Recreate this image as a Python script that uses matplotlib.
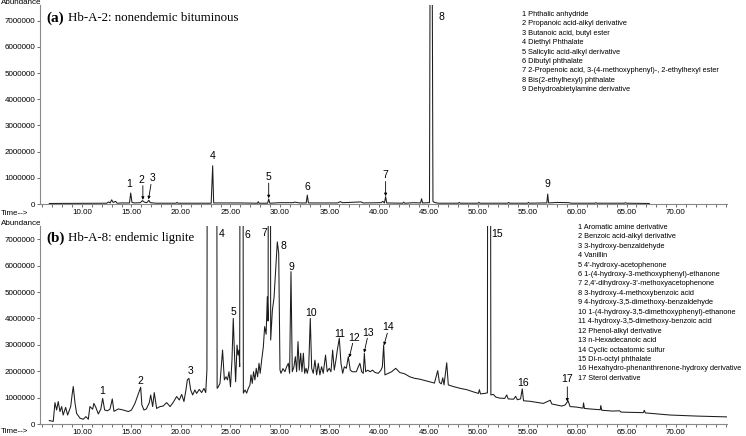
import matplotlib
matplotlib.use("Agg")
import matplotlib.pyplot as plt
from matplotlib.ticker import MultipleLocator, FormatStrFormatter, FuncFormatter
import numpy as np

# ---- panel (a): Hb-A-2, retention time (min) / abundance (millions)
time_a = [6.7, 12.5, 12.7, 12.85, 13.0, 13.15, 13.4, 13.55, 14.0, 14.8, 14.92, 15.05,
          15.3, 15.9, 16.1, 16.3, 16.55, 16.75, 16.9, 17.5, 19.5, 19.6, 19.7, 23.05,
          23.2, 23.3, 26.0, 27.75, 27.8, 27.9, 28.75, 28.86, 28.97, 30.0, 31.3, 31.5,
          32.0, 32.65, 32.76, 32.87, 35.8, 36.1, 36.3, 37.0, 38.2, 38.4, 40.2, 40.4,
          40.55, 40.67, 40.78, 42.4, 42.5, 42.6, 43.5, 44.2, 44.3, 44.4, 45.1, 45.18,
          45.35, 45.45, 45.6, 46.0, 48.0, 48.1, 48.2, 50.0, 50.1, 50.2, 53.0, 53.1,
          53.2, 55.0, 55.1, 55.2, 56.5, 56.95, 57.04, 57.13, 58.0, 59.2, 59.4, 61.8,
          61.9, 62.0, 64.8, 64.9, 65.0, 67.3]
abund_a = [0.02, 0.03, 0.08, 0.04, 0.16, 0.06, 0.10, 0.03, 0.04, 0.04, 0.42, 0.06,
           0.04, 0.05, 0.13, 0.07, 0.05, 0.14, 0.05, 0.03, 0.03, 0.06, 0.03, 0.03,
           1.46, 0.04, 0.04, 0.03, 0.09, 0.03, 0.03, 0.19, 0.03, 0.05, 0.05, 0.07,
           0.04, 0.04, 0.34, 0.04, 0.04, 0.09, 0.05, 0.06, 0.08, 0.04, 0.05, 0.10,
           0.04, 0.28, 0.04, 0.03, 0.07, 0.03, 0.05, 0.04, 0.20, 0.04, 0.05, 12.0,
           12.0, 0.10, 0.06, 0.03, 0.03, 0.06, 0.03, 0.03, 0.06, 0.03, 0.03, 0.06,
           0.03, 0.03, 0.06, 0.03, 0.04, 0.04, 0.38, 0.04, 0.06, 0.05, 0.03, 0.03,
           0.05, 0.03, 0.03, 0.05, 0.03, 0.02]

# ---- panel (b): Hb-A-8
time_b = [6.70, 7.10, 7.27, 7.44, 7.60, 7.78, 7.95, 8.10, 8.35, 8.55, 8.86, 9.00, 9.12,
          9.30, 9.46, 9.80, 10.13, 10.40, 10.64, 10.80, 11.08, 11.20, 11.40, 11.65, 11.90,
          12.09, 12.29, 12.56, 12.83, 13.06, 13.23, 13.67, 14.17, 14.68, 15.00, 15.35,
          15.60, 15.93, 16.05, 16.26, 16.50, 16.80, 16.94, 17.14, 17.30, 17.54, 17.88,
          18.20, 18.55, 18.90, 19.20, 19.56, 19.83, 20.07, 20.30, 20.50, 20.64, 20.80,
          20.98, 21.18, 21.40, 21.58, 21.85, 22.09, 22.32, 22.50, 22.62, 22.72, 23.55,
          23.65, 23.77, 23.94, 24.20, 24.38, 24.55, 24.70, 24.85, 25.00, 25.15, 25.28,
          25.40, 25.52, 25.66, 25.76, 25.86, 25.93, 26.03, 26.20, 26.30, 26.47, 26.63,
          26.80, 26.97, 27.07, 27.20, 27.33, 27.47, 27.60, 27.74, 27.88, 28.00, 28.15,
          28.32, 28.45, 28.60, 28.72, 28.80, 28.87, 28.98, 29.06, 29.23, 29.40, 29.60,
          29.73, 29.87, 30.00, 30.10, 30.30, 30.50, 30.67, 30.84, 30.97, 31.11, 31.24,
          31.41, 31.55, 31.68, 31.82, 31.95, 32.09, 32.22, 32.36, 32.49, 32.63, 32.76,
          32.90, 33.06, 33.20, 33.36, 33.53, 33.70, 33.87, 34.03, 34.20, 34.37, 34.60,
          34.77, 34.97, 35.15, 35.32, 35.48, 35.65, 35.79, 35.99, 36.16, 36.33, 36.50,
          36.70, 36.90, 37.10, 37.30, 37.50, 37.71, 37.91, 38.07, 38.25, 38.41, 38.52,
          38.65, 38.86, 39.10, 39.35, 39.60, 39.93, 40.20, 40.34, 40.47, 40.60, 40.94,
          41.28, 41.69, 42.10, 42.60, 43.10, 43.60, 44.10, 44.60, 45.10, 45.60, 45.93,
          46.10, 46.30, 46.44, 46.57, 46.84, 47.00, 47.50, 48.20, 48.87, 49.50, 50.04,
          50.14, 50.25, 50.70, 50.95, 51.02, 51.20, 51.30, 51.55, 51.80, 52.20, 52.70,
          52.90, 53.05, 53.60, 53.80, 53.97, 54.30, 54.47, 54.60, 55.25, 55.90, 56.60,
          57.30, 57.45, 58.46, 58.80, 59.10, 59.30, 59.97, 60.60, 60.66, 60.75, 61.30,
          62.35, 62.40, 62.50, 63.60, 64.30, 64.45, 66.70, 66.80, 66.90, 69.40, 72.10,
          75.10]
abund_b = [0.13, 0.10, 0.81, 0.53, 0.85, 0.47, 0.66, 0.34, 0.63, 0.34, 0.66, 1.10, 1.42,
           0.78, 0.40, 0.22, 0.18, 0.28, 0.18, 0.66, 0.56, 0.78, 0.63, 0.38, 0.56,
           0.97, 0.53, 0.50, 0.56, 0.95, 0.48, 0.57, 0.53, 0.47, 0.53, 0.78,
           1.04, 1.39, 0.72, 0.53, 0.57, 0.81, 1.10, 0.66, 1.19, 0.59, 0.66,
           0.68, 0.81, 0.66, 0.81, 1.04, 0.91, 1.12, 0.85, 1.29, 1.67, 1.73,
           1.29, 1.10, 1.29, 1.16, 1.31, 1.19, 1.35, 1.19, 2.05, 30.0, 30.0,
           1.35, 1.41, 1.54, 2.80, 1.67, 1.79, 1.67, 1.98, 1.41, 2.42, 4.00,
           2.68, 1.60, 2.99, 2.61, 2.80, 2.17, 30.0, 30.0, 1.17, 1.29, 1.17,
           1.35, 1.48, 1.86, 1.54, 1.98, 1.67, 2.11, 1.79, 2.30, 1.92, 2.42,
           2.93, 3.69, 3.40, 4.82, 3.90, 30.0, 30.0, 3.18, 4.30, 4.80, 6.10,
           6.90, 6.47, 2.05, 1.92, 2.10, 1.98, 2.17, 2.30, 1.92, 5.77, 1.98,
           2.17, 2.55, 1.98, 3.12, 2.04, 2.68, 1.98, 2.68, 1.92, 2.11, 1.92,
           2.17, 4.00, 2.11, 1.92, 2.42, 1.86, 2.30, 1.86, 2.17, 1.92, 2.61,
           1.98, 2.11, 1.98, 2.80, 2.04, 2.42, 2.80, 3.25, 2.30, 1.92, 2.17,
           2.11, 2.55, 2.04, 1.98, 1.98, 1.98, 2.17, 2.30, 1.98, 1.92, 2.68,
           1.98, 2.04, 1.98, 2.04, 1.95, 1.92, 2.04, 2.17, 2.99, 1.86, 1.92,
           1.98, 2.11, 1.95, 1.90, 1.79, 1.73, 1.70, 1.65, 1.60, 1.55, 2.02,
           1.58, 1.52, 1.75, 1.48, 2.32, 1.48, 1.42, 1.35, 1.30, 1.22, 1.16,
           1.30, 1.14, 1.16, 1.18, 30.0, 30.0, 1.10, 1.12, 1.02, 0.98, 0.97,
           1.10, 0.95, 0.94, 1.05, 0.92, 0.95, 1.33, 0.88, 0.86, 0.82, 0.78,
           0.90, 0.76, 0.68, 0.72, 0.88, 0.66, 0.64, 0.60, 0.80, 0.59, 0.57,
           0.54, 0.70, 0.52, 0.49, 0.50, 0.45, 0.43, 0.52, 0.42, 0.34, 0.30,
           0.27]

# ---- peak numbers: label position (time, abundance in millions)
labels_a = ['1', '2', '3', '4', '5', '6', '7', '8', '9']
label_t_a = [14.8, 15.99, 17.1, 23.2, 28.86, 32.76, 40.67, 46.3, 57.04]
label_y_a = [0.76, 0.93, 0.99, 1.82, 1.03, 0.64, 1.12, 7.15, 0.78]
# arrows: label -> (start time, start abundance, end time, end abundance)
arrows_a = {'2': (16.15, 0.70, 16.15, 0.16),
            '3': (16.97, 0.75, 16.72, 0.18),
            '5': (28.86, 0.80, 28.86, 0.22),
            '7': (40.67, 0.86, 40.67, 0.30)}

labels_b = [str(i) for i in range(1, 18)]
label_t_b = [12.02, 15.93, 20.98, 24.15, 25.29, 26.68, 28.4, 30.3, 31.11, 33.1, 36.06,
             37.47, 38.92, 40.94, 51.9, 54.5, 59.02]
label_y_b = [1.25, 1.63, 2.00, 7.2, 4.26, 7.15, 7.25, 6.75, 5.96, 4.22, 3.41, 3.25,
             3.46, 3.69, 7.2, 1.54, 1.70]
arrows_b = {'12': (37.34, 3.06, 37.0, 2.52),
            '13': (38.82, 3.25, 38.5, 2.70),
            '14': (40.84, 3.44, 40.5, 2.98),
            '17': (59.02, 1.41, 59.02, 0.85)}

names_a = ["Phthalic anhydride", "Propanoic acid-alkyl derivative",
           "Butanoic acid, butyl ester", "Diethyl Phthalate",
           "Salicylic acid-alkyl derivative", "Dibutyl phthalate",
           "2-Propenoic acid, 3-(4-methoxyphenyl)-, 2-ethylhexyl ester",
           "Bis(2-ethylhexyl) phthalate", "Dehydroabietylamine derivative"]
names_b = ["Aromatic amine derivative", "Benzoic acid-alkyl derivative",
           "3-hydroxy-benzaldehyde", "Vanillin", "4'-hydroxy-acetophenone",
           "1-(4-hydroxy-3-methoxyphenyl)-ethanone",
           "2,4'-dihydroxy-3'-methoxyacetophenone",
           "3-hydroxy-4-methoxybenzoic acid", "4-hydroxy-3,5-dimethoxy-benzaldehyde",
           "1-(4-hydroxy-3,5-dimethoxyphenyl)-ethanone",
           "4-hydroxy-3,5-dimethoxy-benzoic acid", "Phenol-alkyl derivative",
           "n-Hexadecanoic acid", "Cyclic octaatomic sulfur", "Di-n-octyl phthalate",
           "Hexahydro-phenanthrenone-hydroxy derivative", "Sterol derivative"]

W, H = 746, 436
SANS = ['Liberation Sans', 'DejaVu Sans']
SERIF = ['Liberation Serif', 'DejaVu Serif']

fig = plt.figure(figsize=(W / 100, H / 100), dpi=100)


def px(x, y):
    return x / W, 1 - y / H


def setup(ax, ytop):
    ax.set_xlim(5.76, 75.15)
    ax.set_ylim(0, ytop)
    for s in ['top', 'right']:
        ax.spines[s].set_visible(False)
    for s in ['left', 'bottom']:
        ax.spines[s].set_color('#8a8a8a')
        ax.spines[s].set_linewidth(0.8)
    ax.xaxis.set_minor_locator(MultipleLocator(1))
    ax.set_xticks([v for v in range(10, 75, 5)])
    ax.xaxis.set_major_formatter(FormatStrFormatter('%.2f'))
    ax.yaxis.set_major_locator(MultipleLocator(1e6))
    ax.yaxis.set_major_formatter(FuncFormatter(lambda v, p: '%d' % round(v)))
    ax.tick_params(axis='x', which='both', direction='out', length=2.5, width=0.6,
                   color='#555555', pad=1.2, labelsize=5.8)
    ax.tick_params(axis='y', which='both', direction='out', length=2, width=0.6,
                   color='#555555', pad=1.5, labelsize=5.8)
    for lab in ax.get_xticklabels() + ax.get_yticklabels():
        lab.set_family(SANS)


def draw(ax, t, a, labels, lt, ly, arrows):
    ax.plot(t, np.array(a) * 1e6, color='#1c1c1c', lw=0.75)
    for lab, x, y in zip(labels, lt, ly):
        ax.text(x, y * 1e6, lab, ha='center', va='center', fontsize=7.5, family=SANS)
    for lab, (x0, y0, x1, y1) in arrows.items():
        ax.annotate('', xy=(x1, y1 * 1e6), xytext=(x0, y0 * 1e6),
                    arrowprops=dict(arrowstyle='-|>', lw=0.6, color='k',
                                    mutation_scale=4, shrinkA=0, shrinkB=0))


ax_a = fig.add_axes([40 / W, 1 - 204 / H, 687 / W, 199 / H])
setup(ax_a, 7.6e6)
draw(ax_a, time_a, abund_a, labels_a, label_t_a, label_y_a, arrows_a)

ax_b = fig.add_axes([40 / W, 1 - 424 / H, 687 / W, 198 / H])
setup(ax_b, 7.5e6)
draw(ax_b, time_b, abund_b, labels_b, label_t_b, label_y_b, arrows_b)

# axis captions
for yy in (3, 223):
    fig.text(*px(1, yy), 'Abundance', fontsize=5.8, family=SANS, va='center')
for yy in (213, 431):
    fig.text(*px(1, yy), 'Time-->', fontsize=5.8, family=SANS, va='center')

# panel titles
fig.text(*px(46, 18), '(a)', fontsize=11, weight='bold', family=SERIF, va='center')
fig.text(*px(68, 18), 'Hb-A-2: nonendemic bituminous', fontsize=9.3, family=SERIF,
         va='center')
fig.text(*px(46, 238), '(b)', fontsize=11, weight='bold', family=SERIF, va='center')
fig.text(*px(68, 238), 'Hb-A-8: endemic lignite', fontsize=9.3, family=SERIF,
         va='center')

# compound lists
for i, name in enumerate(names_a):
    fig.text(*px(522, 14.3 + i * 9.44), '%d %s' % (i + 1, name), fontsize=5.3,
             family=SANS, va='center')
for i, name in enumerate(names_b):
    fig.text(*px(578, 227.3 + i * 9.44), '%d %s' % (i + 1, name), fontsize=5.3,
             family=SANS, va='center')

fig.savefig('out.png', dpi=100)
